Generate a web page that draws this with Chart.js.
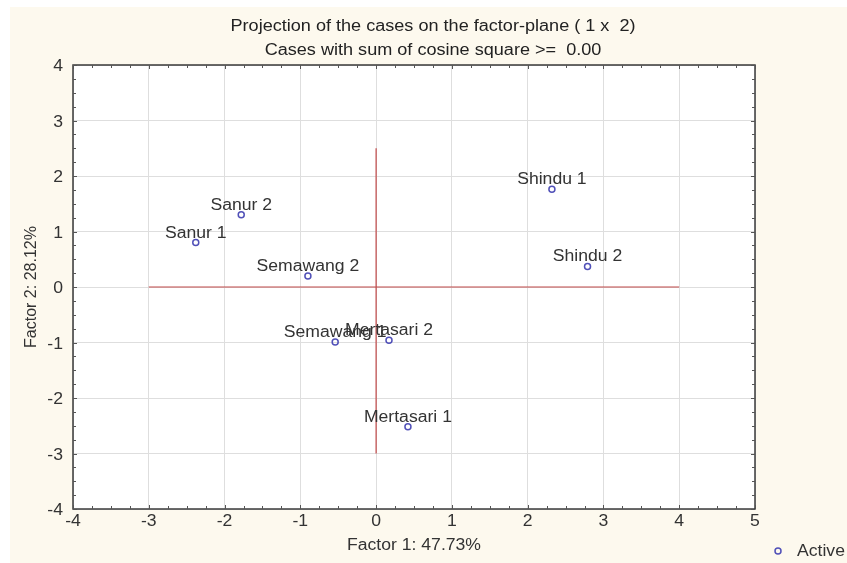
<!DOCTYPE html>
<html>
<head>
<meta charset="utf-8">
<script src="https://cdn.jsdelivr.net/npm/chart.js@4/dist/chart.umd.min.js"></script>
<style>
  html, body { margin: 0; padding: 0; background: #ffffff; }
  #wrap { width: 847px; height: 563px; position: relative; }
</style>
</head>
<body>
<div id="wrap"><canvas id="factorChart" width="847" height="563"></canvas></div>
<script>
// cases
const caseNames = ["Sanur 1", "Sanur 2", "Semawang 1", "Semawang 2", "Mertasari 1", "Mertasari 2", "Shindu 1", "Shindu 2"];
const factor1 = [-2.38, -1.78, -0.54, -0.90, 0.42, 0.17, 2.32, 2.79];
const factor2 = [0.80, 1.30, -0.99, 0.20, -2.52, -0.96, 1.76, 0.37];

// red cross lines
const crossHx = [-3, 4];
const crossHy = [0, 0];
const crossVx = [0, 0];
const crossVy = [-3, 2.5];

const xTicks = [-4, -3, -2, -1, 0, 1, 2, 3, 4, 5];
const yTicks = [-4, -3, -2, -1, 0, 1, 2, 3, 4];

const titleLines = ["Projection of the cases on the factor-plane ( 1 x  2)", "Cases with sum of cosine square >=  0.00"];
const xTitle = "Factor 1: 47.73%";
const yTitle = "Factor 2: 28.12%";
const legendLabel = "Active";

const FONT = "'Liberation Sans', Arial, sans-serif";
const pointColor = "#5050b8";
const STRETCH = 1.1;   // the source picture is a bit wider than tall

const toPts = (xs, ys) => xs.map((x, i) => ({ x: x, y: ys[i] }));

function wideText(ctx, text, x, y, align, k) {
    ctx.save();
    ctx.translate(x, y);
    ctx.scale(k || STRETCH, 1);
    ctx.textAlign = align;
    ctx.fillText(text, 0, 0);
    ctx.restore();
}

const backdrop = {
    id: "backdrop",
    beforeDraw(chart) {
        const ctx = chart.ctx;
        const a = chart.chartArea;
        ctx.save();
        ctx.fillStyle = "#fdf9ee";
        ctx.fillRect(10, 7, chart.width - 10, chart.height - 7);
        ctx.fillStyle = "#ffffff";
        ctx.fillRect(a.left, a.top, a.right - a.left, a.bottom - a.top);
        ctx.restore();
    }
};

const decorations = {
    id: "decorations",
    afterDatasetsDraw(chart) {
        const ctx = chart.ctx;
        const a = chart.chartArea;
        const xs = chart.scales.x;
        const ys = chart.scales.y;
        ctx.save();

        // frame
        ctx.strokeStyle = "#3a3a3a";
        ctx.lineWidth = 1.5;
        ctx.strokeRect(a.left, a.top, a.right - a.left, a.bottom - a.top);

        // minor ticks on all four sides
        ctx.lineWidth = 1;
        ctx.strokeStyle = "#555";
        ctx.beginPath();
        for (let v = xs.min; v <= xs.max + 1e-9; v += 0.25) {
            const px = Math.round(xs.getPixelForValue(v)) + 0.5;
            const len = Math.abs(v - Math.round(v)) < 1e-9 ? 4 : 3;
            ctx.moveTo(px, a.bottom); ctx.lineTo(px, a.bottom - len);
            ctx.moveTo(px, a.top); ctx.lineTo(px, a.top + len);
        }
        for (let v = ys.min; v <= ys.max + 1e-9; v += 0.25) {
            const py = Math.round(ys.getPixelForValue(v)) + 0.5;
            const len = Math.abs(v - Math.round(v)) < 1e-9 ? 4 : 3;
            ctx.moveTo(a.left, py); ctx.lineTo(a.left + len, py);
            ctx.moveTo(a.right, py); ctx.lineTo(a.right - len, py);
        }
        ctx.stroke();

        ctx.font = "16px " + FONT;
        ctx.textBaseline = "alphabetic";

        // tick labels
        ctx.fillStyle = "#333";
        xs.ticks.forEach(t => {
            wideText(ctx, String(t.value), xs.getPixelForValue(t.value), a.bottom + 17, "center");
        });
        ys.ticks.forEach(t => {
            wideText(ctx, String(t.value), a.left - 10, ys.getPixelForValue(t.value) + 6, "right");
        });

        // case labels
        const meta = chart.getDatasetMeta(2);
        meta.data.forEach((pt, i) => {
            wideText(ctx, caseNames[i], pt.x, pt.y - 5, "center");
        });

        // titles
        ctx.fillStyle = "#222";
        wideText(ctx, titleLines[0], 433, 31, "center", 1.13);
        wideText(ctx, titleLines[1], 433, 55, "center", 1.13);

        // axis titles
        ctx.fillStyle = "#333";
        wideText(ctx, xTitle, (a.left + a.right) / 2, 550, "center");
        ctx.save();
        ctx.translate(36, (a.top + a.bottom) / 2);
        ctx.rotate(-Math.PI / 2);
        ctx.textAlign = "center";
        ctx.fillText(yTitle, 0, 0);
        ctx.restore();

        // legend
        ctx.beginPath();
        ctx.arc(778, 551, 3, 0, Math.PI * 2);
        ctx.strokeStyle = pointColor;
        ctx.lineWidth = 1.5;
        ctx.stroke();
        ctx.fillStyle = "#333";
        wideText(ctx, legendLabel, 797, 556, "left");

        ctx.restore();
    }
};

new Chart(document.getElementById("factorChart"), {
    type: "scatter",
    data: {
        datasets: [
            {
                data: toPts(crossHx, crossHy),
                showLine: true,
                borderColor: "#c04848",
                borderWidth: 1.2,
                pointRadius: 0
            },
            {
                data: toPts(crossVx, crossVy),
                showLine: true,
                borderColor: "#c04848",
                borderWidth: 1.2,
                pointRadius: 0
            },
            {
                label: legendLabel,
                data: toPts(factor1, factor2),
                pointRadius: 3,
                pointBorderWidth: 1.5,
                pointBorderColor: pointColor,
                pointBackgroundColor: "rgba(255,255,255,0)",
                showLine: false
            }
        ]
    },
    options: {
        responsive: false,
        animation: false,
        events: [],
        layout: { padding: { left: 0, right: 92, top: 65, bottom: 0 } },
        plugins: {
            legend: { display: false },
            tooltip: { enabled: false }
        },
        scales: {
            x: {
                type: "linear",
                min: xTicks[0],
                max: xTicks[xTicks.length - 1],
                afterBuildTicks(scale) { scale.ticks = xTicks.map(v => ({ value: v })); },
                afterFit(scale) { scale.height = 54; },
                grid: { color: "#dedede", lineWidth: 1, drawTicks: false },
                border: { display: false },
                ticks: { display: false }
            },
            y: {
                type: "linear",
                min: yTicks[0],
                max: yTicks[yTicks.length - 1],
                afterBuildTicks(scale) { scale.ticks = yTicks.map(v => ({ value: v })); },
                afterFit(scale) { scale.width = 73; },
                grid: { color: "#dedede", lineWidth: 1, drawTicks: false },
                border: { display: false },
                ticks: { display: false }
            }
        }
    },
    plugins: [backdrop, decorations]
});
</script>
</body>
</html>
